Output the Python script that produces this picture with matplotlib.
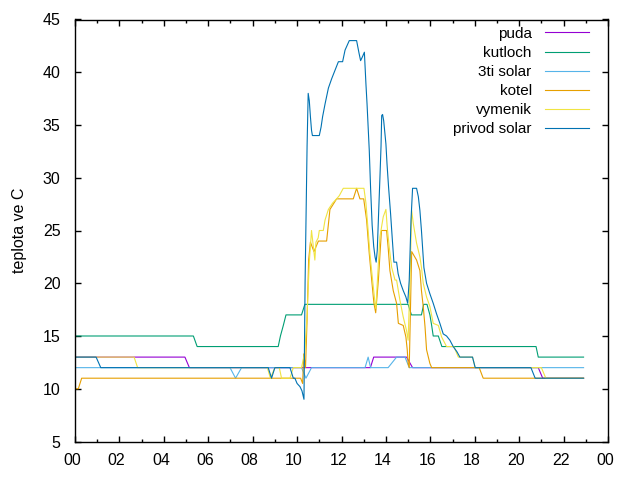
import matplotlib
matplotlib.use("Agg")
import matplotlib.pyplot as plt
import matplotlib.transforms as mtransforms
from matplotlib.ticker import MultipleLocator, FuncFormatter

plt.rcParams['font.family'] = ['Liberation Sans', 'DejaVu Sans']

# time in hours of the day
puda_t = [0, 4.95, 5.15, 13.3, 13.45, 14.93, 15.2, 20.86, 21.06, 22.9]
puda_v = [13, 13, 12, 12, 13, 13, 12, 12, 11, 11]

kutloch_t = [0, 5.33, 5.5, 9.15, 9.25, 9.38, 9.5, 10.2, 10.35, 15.0, 15.15, 15.6, 15.7,
             15.85, 15.98, 16.06, 16.13, 16.36, 16.52, 20.76, 20.86, 22.9]
kutloch_v = [15, 15, 14, 14, 15, 16, 17, 17, 18, 18, 17, 17, 18,
             18, 17, 16, 15, 15, 14, 14, 13, 13]

solar3_t = [0, 6.98, 7.23, 7.5, 10.2, 10.4, 10.65, 13.06, 13.2, 13.31, 14.1, 14.48, 14.86, 15.05, 22.9]
solar3_v = [12, 12, 11, 12, 12, 11, 12, 12, 13, 12, 12, 13, 13, 12, 12]

kotel_t = [0, 0.15, 0.3, 10.16, 10.25, 10.3, 10.38, 10.45, 10.52, 10.6, 10.76, 10.96, 11.33,
           11.48, 11.78, 12.53, 12.68, 12.83, 13.0, 13.13, 13.25, 13.36, 13.46, 13.54, 13.66,
           13.8, 14.03, 14.1, 14.18, 14.33, 14.48, 14.56, 14.78, 14.9, 14.96, 15.0, 15.05,
           15.16, 15.38, 15.53, 15.6, 15.68, 15.76, 15.83, 15.98, 16.06, 18.2, 18.38, 22.9]
kotel_v = [10, 10, 11, 11, 10.5, 13.3, 12, 16.5, 22.2, 23.9, 23, 24, 24,
           27, 28, 28, 29, 28, 28, 26, 22.8, 20.3, 18.1, 17.2, 20.3,
           25, 25, 23.4, 21.2, 19.3, 18.1, 16.2, 16, 14.9, 13.7, 12.4, 12,
           23, 22.2, 21.2, 19.3, 17.8, 15.9, 13.7, 12.4, 12, 12, 11, 11]

vymenik_t = [0, 2.66, 2.82, 8.66, 8.8, 9.0, 9.2, 9.3, 9.68, 9.83, 10.2, 10.35, 10.45, 10.55,
             10.65, 10.8, 10.85, 10.95, 11.0, 11.18, 11.26, 11.41, 11.6, 11.78, 11.9, 12.08,
             13.01, 13.1, 13.2, 13.28, 13.4, 13.51, 13.55, 13.61, 13.73, 13.88, 14.0, 14.06,
             14.15, 14.26, 14.41, 14.48, 14.63, 14.78, 14.93, 15.0, 15.08, 15.16, 15.23, 15.38,
             15.53, 15.6, 15.68, 15.83, 15.98, 16.13, 16.36, 16.51, 16.73, 17.06, 17.26, 17.9,
             18.02, 21.0, 21.2, 22.9]
vymenik_v = [13, 13, 12, 12, 11, 12, 12, 11, 11, 12, 12, 13.5, 17, 22,
             25, 22.2, 23.9, 24.3, 25, 25, 26, 27, 27.6, 28, 28.3, 29,
             29, 27.6, 25, 22.8, 20.3, 18.1, 17.6, 20, 24.4, 26.3, 27, 25.3,
             23.4, 21.5, 20.3, 20.3, 18.4, 16.8, 15.5, 14.6, 20, 26.9, 25.7, 23.8,
             22.5, 21.5, 20, 18.7, 17.8, 16.2, 16, 14.9, 14, 14, 13, 13,
             12, 12, 11, 11]

privod_t = [0, 0.95, 1.16, 8.7, 8.85, 9.0, 9.68, 9.83, 9.9, 10.0, 10.13, 10.22, 10.31, 10.36,
            10.45, 10.5, 10.55, 10.6, 10.65, 10.69, 11.0, 11.08, 11.15, 11.26, 11.41, 11.56,
            11.71, 11.86, 12.05, 12.16, 12.35, 12.68, 12.79, 12.86, 12.95, 13.03, 13.1, 13.15,
            13.2, 13.25, 13.31, 13.38, 13.45, 13.51, 13.56, 13.61, 13.66, 13.73, 13.78, 13.81,
            13.85, 13.9, 14.0, 14.05, 14.12, 14.21, 14.29, 14.36, 14.48, 14.55, 14.66, 14.78,
            14.9, 14.98, 15.05, 15.13, 15.2, 15.38, 15.46, 15.53, 15.6, 15.65, 15.71, 15.83,
            15.98, 16.13, 16.28, 16.43, 16.58, 16.73, 16.88, 17.03, 17.2, 17.33, 17.9, 18.02,
            20.53, 20.72, 22.9]
privod_v = [13, 13, 12, 12, 11, 12, 12, 11, 11, 10.5, 10.2, 9.8, 9, 20,
            33, 38, 37.3, 35.8, 34.5, 34, 34, 34.8, 35.8, 37, 38.5, 39.4,
            40.2, 41, 41, 42.1, 43, 43, 41.8, 41.1, 41.5, 41.9, 38.9, 37,
            34.8, 32.6, 29, 25.5, 23.5, 22.5, 22, 23.1, 26, 30, 33, 35.9,
            36, 35.4, 33.2, 31.3, 29.1, 26.6, 24.1, 22, 22, 20.9, 20, 19.3,
            18.7, 18.1, 20.3, 26, 29, 29, 28.2, 26.9, 25, 23.4, 21.5, 20,
            19, 18.1, 17.1, 16.2, 15.2, 15, 14.6, 14, 13.5, 13, 13, 12,
            12, 11, 11]

series = [
    ("puda", puda_t, puda_v, "#9400d3"),
    ("kutloch", kutloch_t, kutloch_v, "#009e73"),
    ("3ti solar", solar3_t, solar3_v, "#56b4e9"),
    ("kotel", kotel_t, kotel_v, "#e69f00"),
    ("vymenik", vymenik_t, vymenik_v, "#f0e442"),
    ("privod solar", privod_t, privod_v, "#0072b2"),
]

fig = plt.figure(figsize=(6.4, 4.8), dpi=100)
ax = fig.add_axes([75/640, 1 - 441.5/480, 533/640, 422/480])

for name, t, v, c in series:
    ax.plot(t, v, color=c, lw=0.8, label=name)

ax.set_xlim(0, 24)
ax.set_ylim(5, 45)
ax.xaxis.set_major_locator(MultipleLocator(2))
ax.xaxis.set_minor_locator(MultipleLocator(1))
ax.yaxis.set_major_locator(MultipleLocator(5))
ax.xaxis.set_major_formatter(FuncFormatter(lambda x, p: "%02d" % (int(round(x)) % 24)))
ax.tick_params(which='both', direction='in', top=True, right=True, labelsize=11.5, width=1)
ax.tick_params(which='major', length=4.5)
ax.tick_params(which='minor', length=2.2)
ax.tick_params(axis='x', which='major', pad=8)
ax.tick_params(axis='y', which='major', pad=10.5)
for s in ax.spines.values():
    s.set_linewidth(1)

offset = mtransforms.ScaledTranslation(-3/100, 0, fig.dpi_scale_trans)
for lab in ax.get_xticklabels():
    lab.set_transform(lab.get_transform() + offset)

ax.set_ylabel("teplota ve C", fontsize=11.5, labelpad=11.5)

leg = ax.legend(loc='upper right', bbox_to_anchor=(0.9644, 0.9827), frameon=False,
                markerfirst=False, fontsize=11,
                handlelength=2.88, handletextpad=0.87, labelspacing=0.334,
                borderaxespad=0, borderpad=0)

fig.savefig("out.png", dpi=100)
